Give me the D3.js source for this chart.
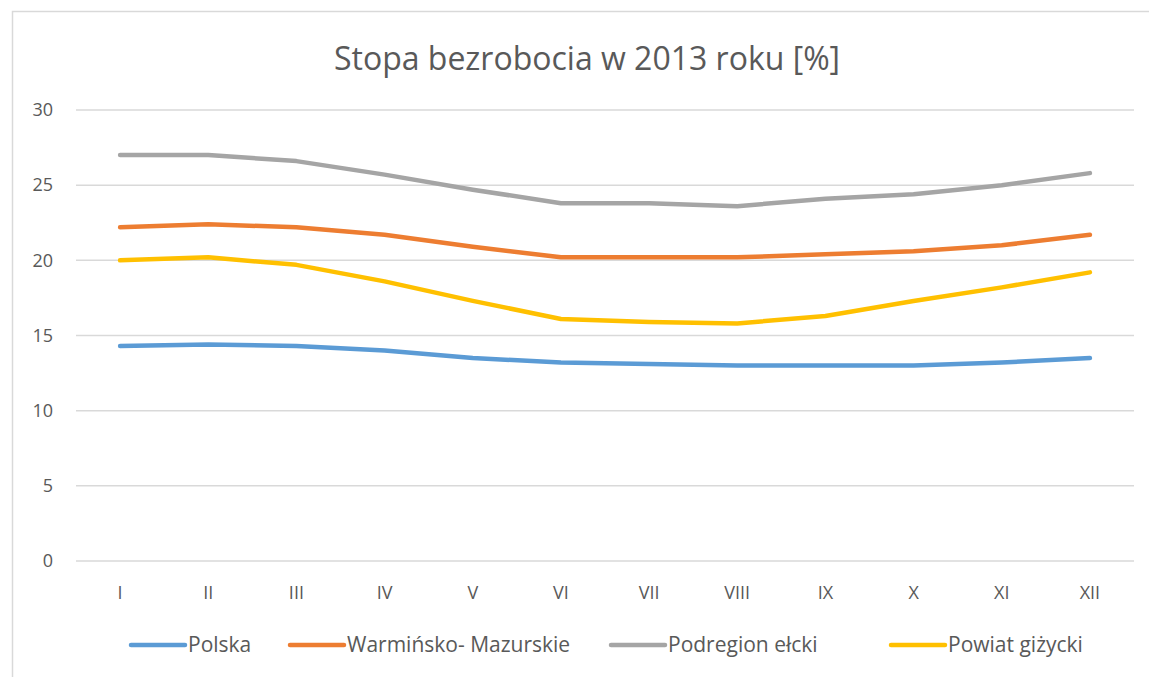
<!DOCTYPE html>
<html>
<head>
<meta charset="utf-8">
<script src="https://cdn.jsdelivr.net/npm/d3@7"></script>
<style>
  body { margin: 0; background: #fff; }
  text { font-family: 'Open Sans', 'Liberation Sans', Arial, sans-serif; fill: #595959; }
</style>
</head>
<body>
<script>
'use strict';

var months = ['I', 'II', 'III', 'IV', 'V', 'VI', 'VII', 'VIII', 'IX', 'X', 'XI', 'XII'];
var polska = [14.3, 14.4, 14.3, 14.0, 13.5, 13.2, 13.1, 13.0, 13.0, 13.0, 13.2, 13.5];
var warminsko = [22.2, 22.4, 22.2, 21.7, 20.9, 20.2, 20.2, 20.2, 20.4, 20.6, 21.0, 21.7];
var podregion = [27.0, 27.0, 26.6, 25.7, 24.7, 23.8, 23.8, 23.6, 24.1, 24.4, 25.0, 25.8];
var powiat = [20.0, 20.2, 19.7, 18.6, 17.3, 16.1, 15.9, 15.8, 16.3, 17.3, 18.2, 19.2];
var yTicks = [0, 5, 10, 15, 20, 25, 30];

var series = [
  { name: 'Polska', values: polska, color: '#5B9BD5' },
  { name: 'Warmińsko- Mazurskie', values: warminsko, color: '#ED7D31' },
  { name: 'Podregion ełcki', values: podregion, color: '#A5A5A5' },
  { name: 'Powiat giżycki', values: powiat, color: '#FFC000' }
];

var width = 1149;
var height = 677;
var margin = { top: 110, right: 15, bottom: 116, left: 76 };

var svg = d3.select('body').append('svg')
  .attr('width', width)
  .attr('height', height);

// chart frame
svg.append('rect')
  .attr('x', 12.5).attr('y', 11.5)
  .attr('width', width).attr('height', height)
  .attr('fill', 'none')
  .attr('stroke', '#D9D9D9')
  .attr('stroke-width', 1.5);

svg.append('text')
  .attr('x', 587).attr('y', 70)
  .attr('text-anchor', 'middle')
  .style('font-size', '32px')
  .text('Stopa bezrobocia w 2013 roku [%]');

var x = d3.scaleBand()
  .domain(months)
  .range([margin.left, width - margin.right]);

var y = d3.scaleLinear()
  .domain([0, 30])
  .range([height - margin.bottom, margin.top]);

var g = svg.append('g');

g.selectAll('.grid')
  .data(yTicks)
  .enter().append('line')
  .attr('x1', margin.left).attr('x2', width - margin.right)
  .attr('y1', function(d) { return y(d); })
  .attr('y2', function(d) { return y(d); })
  .attr('stroke', '#D9D9D9')
  .attr('stroke-width', 1.5);

g.selectAll('.ylab')
  .data(yTicks)
  .enter().append('text')
  .attr('x', 53)
  .attr('y', function(d) { return y(d); })
  .attr('dy', '0.35em')
  .attr('text-anchor', 'end')
  .style('font-size', '18px')
  .text(function(d) { return d; });

g.selectAll('.xlab')
  .data(months)
  .enter().append('text')
  .attr('x', function(d) { return x(d) + x.bandwidth() / 2; })
  .attr('y', 593)
  .attr('dy', '0.35em')
  .attr('text-anchor', 'middle')
  .style('font-size', '18px')
  .text(function(d) { return d; });

var line = d3.line()
  .x(function(d, i) { return x(months[i]) + x.bandwidth() / 2; })
  .y(function(d) { return y(d); });

g.selectAll('.series')
  .data(series)
  .enter().append('path')
  .attr('d', function(d) { return line(d.values); })
  .attr('fill', 'none')
  .attr('stroke', function(d) { return d.color; })
  .attr('stroke-width', 4.5)
  .attr('stroke-linecap', 'round')
  .attr('stroke-linejoin', 'round');

// legend
var legendX = [131, 290, 611, 891];
var legend = svg.selectAll('.legend')
  .data(series)
  .enter().append('g')
  .attr('transform', function(d, i) { return 'translate(' + legendX[i] + ',645)'; });

legend.append('line')
  .attr('x1', 0).attr('x2', 54)
  .attr('stroke', function(d) { return d.color; })
  .attr('stroke-width', 4.5)
  .attr('stroke-linecap', 'round');

legend.append('text')
  .attr('x', 57)
  .attr('dy', '0.35em')
  .style('font-size', '21px')
  .text(function(d) { return d.name; });
</script>
</body>
</html>
